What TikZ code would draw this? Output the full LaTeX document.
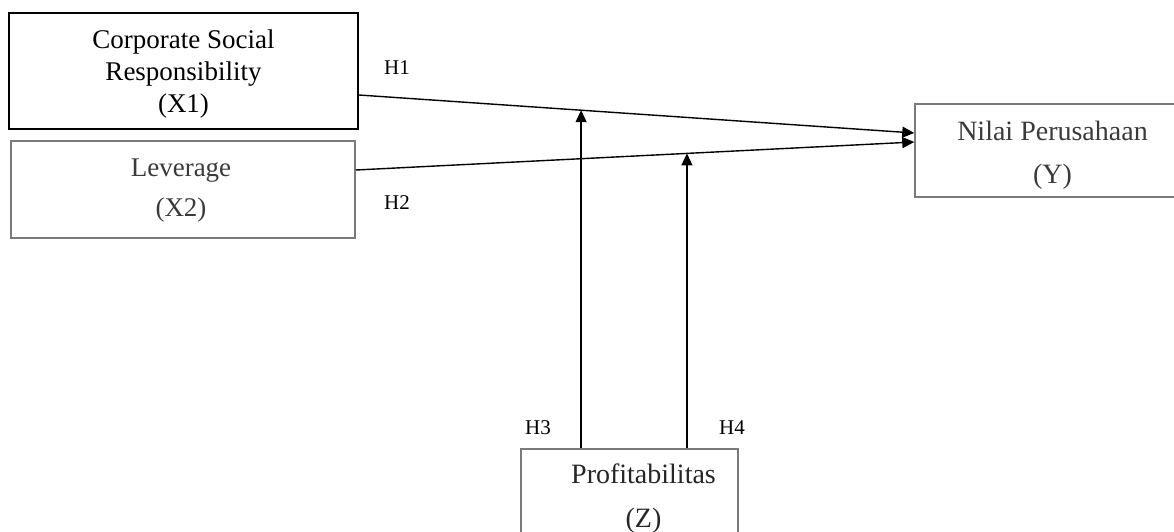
\documentclass[tikz,border=0pt]{standalone}
\usepackage{fontspec}
\setmainfont{Liberation Serif}
\usetikzlibrary{calc,arrows.meta}
\definecolor{boxgray}{HTML}{7A7A7A}
\definecolor{txtgray}{HTML}{3A3A3A}
\begin{document}
\begin{tikzpicture}[x=1pt,y=-1pt,
  box/.style={draw=boxgray, rectangle, inner sep=0pt, line width=1.5pt},
  txt/.style={align=center, inner sep=0pt, text=txtgray},
  lbl/.style={font=\fontsize{21}{24}\selectfont, inner sep=0pt},
  arr/.style={line width=1.4pt, -{Triangle[length=12pt,width=11pt]}}]
\clip (0,0) rectangle (1174,531);
\node[box, draw=black, line width=2pt, minimum width=349pt, minimum height=116pt] (x1) at (183.5,71) {};
\node[box, minimum width=344pt, minimum height=97pt] (x2) at (183,189.5) {};
\node[box, minimum width=275pt, minimum height=93pt] (y) at (1052.5,150.5) {};
\node[box, minimum width=217pt, minimum height=100pt] (z) at (629.5,499) {};

\node[txt, text=black, font=\fontsize{27}{32}\selectfont] (x1t) at ($(x1.center)+(0,2.7)$) {Corporate Social\\Responsibility\\(X1)};
\node[txt, font=\fontsize{27}{40}\selectfont] (x2t) at ($(x2.center)+(-2,1.5)$) {Leverage\\(X2)};
\node[txt, font=\fontsize{28}{43}\selectfont] (yt) at ($(y.center)+(0,4.5)$) {Nilai Perusahaan\\(Y)};
\node[txt, text=black!85, font=\fontsize{28}{44}\selectfont] (zt) at ($(z.center)+(14,-0.5)$) {Profitabilitas\\(Z)};

\coordinate (s1) at ($(x1.east)+(0,24)$);
\coordinate (e1) at ($(y.west)+(0,-17.5)$);
\coordinate (s2) at ($(x2.east)+(0,-19.5)$);
\coordinate (e2) at ($(y.west)+(0,-8.5)$);
\coordinate (m1) at ($(s1)!0.400!(e1)$);
\coordinate (m2) at ($(s2)!0.593!(e2)$);

\draw[arr] (s1) -- (e1);
\draw[arr] (s2) -- (e2);
\draw[arr] (z.north -| m1) -- (m1);
\draw[arr] (z.north -| m2) -- (m2);

\node[lbl] (h1) at (397,68) {H1};
\node[lbl] (h2) at (397,203) {H2};
\node[lbl] (h3) at (538,428) {H3};
\node[lbl] (h4) at (732,428) {H4};
\end{tikzpicture}
\end{document}
